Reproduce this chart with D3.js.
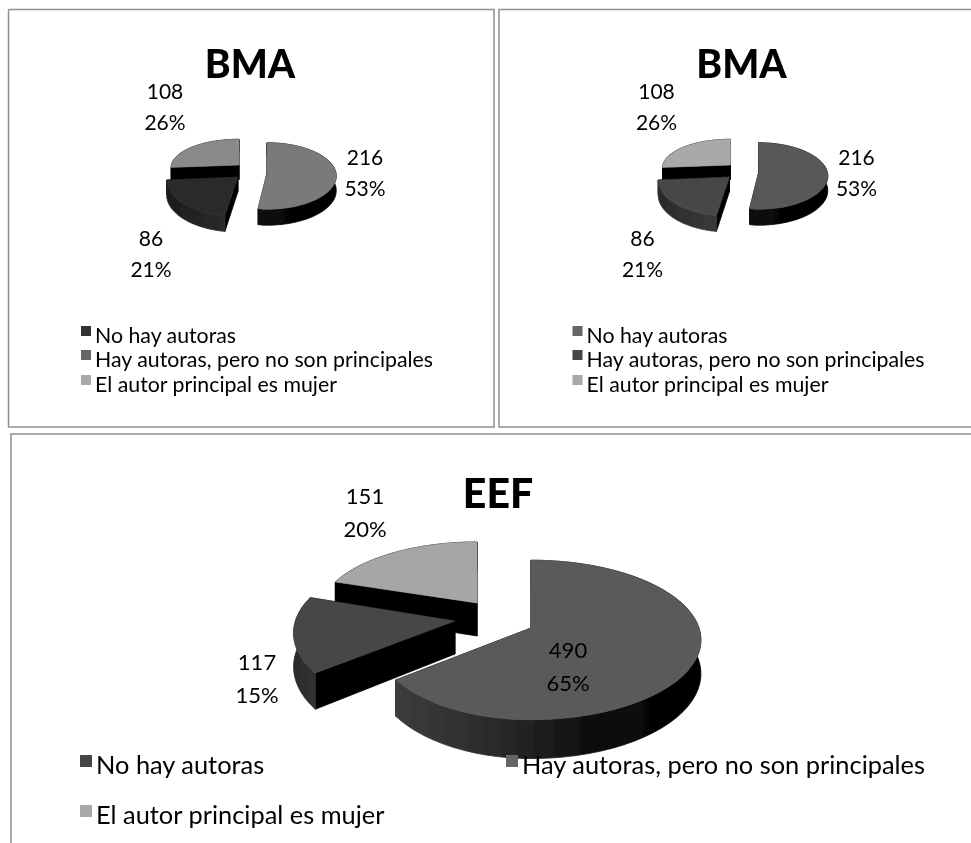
<!DOCTYPE html>
<html>
<head>
<meta charset="utf-8">
<script src="https://cdn.jsdelivr.net/npm/d3@7"></script>
<style>
  body { margin: 0; background: #fff; }
  text { font-family: Lato, "Open Sans", sans-serif; fill: #000; }
</style>
</head>
<body>
<svg id="chart" width="971" height="843"></svg>
<script>
'use strict';

const categories = [
  'No hay autoras',
  'Hay autoras, pero no son principales',
  'El autor principal es mujer',
];

// pie order is the order drawn clockwise from 12 o'clock
const bmaValues = [216, 86, 108];
const eefValues = [490, 117, 151];

const bmaTitle = 'BMA';
const eefTitle = 'EEF';

// greys per chart: pie slices in value order, legend in category order
const bmaLeftFill = ['#7a7a7a', '#2c2c2c', '#8a8a8a'];
const bmaLeftLegend = ['#333333', '#666666', '#a8a8a8'];
const bmaRightFill = ['#585858', '#474747', '#a9a9a9'];
const bmaRightLegend = ['#666666', '#444444', '#a8a8a8'];
const eefFill = ['#5a5a5a', '#474747', '#a6a6a6'];
const eefLegend = ['#444444', '#666666', '#a8a8a8'];

const svg = d3.select('#chart');
const defs = svg.append('defs');
const format = d3.format('.0%');
const pie = d3.pie().sort(null);
const line = d3.line();
let gradientId = 0;

// the source is a soft scan, a very light blur brings the edges closer
defs
  .append('filter')
  .attr('id', 'soft')
  .append('feGaussianBlur')
  .attr('stdDeviation', 0.45);

const root = svg.append('g').attr('filter', 'url(#soft)');

function wallGradient(stops) {
  const id = 'wall' + gradientId++;
  const grad = defs.append('linearGradient').attr('id', id);
  stops.forEach(function(c, i) {
    grad
      .append('stop')
      .attr('offset', i / (stops.length - 1))
      .attr('stop-color', c);
  });
  return 'url(#' + id + ')';
}

function drawPie(g, values, o) {
  const total = d3.sum(values);
  const arcs = pie(values);

  // tilted disc with some perspective, back edge is smaller than front edge
  function project(i, angle, k) {
    const v = Math.cos(angle) * k;
    const u = Math.sin(angle) * k;
    const s = 1 / (1 + o.persp * v);
    return [
      o.apex[i][0] + o.rx * u * s * (u < 0 ? o.leftScale[i] : 1),
      o.apex[i][1] - o.ry * o.ryScale[i] * v * s,
    ];
  }

  function shift(p, angle, k) {
    const s = 1 / (1 + o.persp * Math.cos(angle) * k);
    return [p[0], p[1] + o.depth * s];
  }

  // back to front, the largest slice sits in front
  d3.range(arcs.length)
    .reverse()
    .forEach(function(i) {
      const a = arcs[i];
      const apex = o.apex[i];
      const angles = d3.range(0, 61).map(function(n) {
        return a.startAngle + ((a.endAngle - a.startAngle) * n) / 60;
      });
      const rim = angles.map((t) => project(i, t, 1));
      const rimLow = angles.map((t, n) => shift(rim[n], t, 1));
      const slice = g.append('g').attr('class', 'slice');

      [a.startAngle, a.endAngle].forEach(function(t) {
        const p = project(i, t, 1);
        slice
          .append('path')
          .attr(
            'd',
            line([apex, p, shift(p, t, 1), shift(apex, t, 0)]) + 'Z'
          )
          .attr('fill', '#000')
          .attr('stroke', '#000')
          .attr('stroke-width', 0.8);
      });

      const wallFill = wallGradient(o.wall[i]);
      slice
        .append('path')
        .attr('d', line(rim.concat(rimLow.slice().reverse())) + 'Z')
        .attr('fill', wallFill)
        .attr('stroke', wallFill)
        .attr('stroke-width', 0.8);

      // own stroke closes the seam against the wall
      slice
        .append('path')
        .attr('d', line([apex].concat(rim)) + 'Z')
        .attr('fill', o.fill[i])
        .attr('stroke', o.fill[i])
        .attr('stroke-width', 0.6);
    });

  // value and share labels
  values.forEach(function(d, i) {
    const l = o.labels[i];
    g.append('text')
      .attr('x', l[0])
      .attr('y', l[1])
      .attr('text-anchor', 'middle')
      .style('font-size', o.labelSize + 'px')
      .text(d);
    g.append('text')
      .attr('x', l[0])
      .attr('y', l[1] + o.labelGap)
      .attr('text-anchor', 'middle')
      .style('font-size', o.labelSize + 'px')
      .text(format(d / total));
  });

  g.append('text')
    .attr('x', o.title[0])
    .attr('y', o.title[1])
    .attr('text-anchor', 'middle')
    .style('font-size', o.titleSize + 'px')
    .style('font-weight', 900)
    .text(o.titleText);

  // legend
  categories.forEach(function(c, i) {
    const e = o.legend[i];
    g.append('rect')
      .attr('x', e[0])
      .attr('y', e[1] - o.swatchUp)
      .attr('width', o.swatch)
      .attr('height', o.swatch)
      .attr('fill', o.legendFill[i]);
    g.append('text')
      .attr('x', e[0] + o.swatch + o.swatchGap)
      .attr('y', e[1])
      .style('font-size', o.legendSize + 'px')
      .text(c);
  });
}

// frames, the right and lower panels run off the picture
function frame(points) {
  root
    .append('path')
    .attr('d', line(points))
    .attr('fill', 'none')
    .attr('stroke', '#8e8e8e')
    .attr('stroke-width', 1.5);
}
frame([[8.5, 9.5], [494, 9.5], [494, 427], [8.5, 427], [8.5, 9.5]]);
frame([[971, 9.5], [499, 9.5], [499, 427], [971, 427]]);
frame([[971, 434], [11, 434], [11, 843]]);

const bmaLayout = {
  persp: 0.09,
  rx: 69,
  ry: 33,
  depth: 14.5,
  apex: [[267, 173], [238, 177], [239, 165]],
  leftScale: [0.7, 1.03, 0.98],
  ryScale: [1, 1.08, 0.85],
  labels: [[365, 165], [151, 246], [165, 99]],
  labelGap: 31,
  labelSize: 21,
  title: [250, 78],
  titleSize: 39,
  titleText: bmaTitle,
  legend: [[81, 343], [81, 367], [81, 392]],
  swatch: 10,
  swatchUp: 17,
  swatchGap: 4,
  legendSize: 21.3,
};

drawPie(
  root.append('g'),
  bmaValues,
  Object.assign({}, bmaLayout, {
    fill: bmaLeftFill,
    legendFill: bmaLeftLegend,
    wall: [['#0a0a0a', '#000000'], ['#1c1c1c', '#2a2a2a'], ['#000000', '#000000']],
  })
);

drawPie(
  root.append('g').attr('transform', 'translate(491.5,0)'),
  bmaValues,
  Object.assign({}, bmaLayout, {
    fill: bmaRightFill,
    legendFill: bmaRightLegend,
    wall: [['#0a0a0a', '#000000'], ['#2a2a2a', '#3a3a3a'], ['#000000', '#000000']],
  })
);

drawPie(root.append('g'), eefValues, {
  persp: 0.15,
  rx: 168,
  ry: 78,
  depth: 33,
  apex: [[531, 628], [455, 621], [477, 603]],
  leftScale: [0.92, 0.95, 0.93],
  ryScale: [1, 1, 0.9],
  labels: [[568, 658], [257, 670], [365, 504]],
  labelGap: 33,
  labelSize: 22,
  title: [498, 508],
  titleSize: 41,
  titleText: eefTitle,
  fill: eefFill,
  legendFill: eefLegend,
  wall: [['#3c3c3c', '#2a2a2a', '#0c0c0c', '#000000'], ['#2a2a2a', '#333333'], ['#000000', '#000000']],
  legend: [[80, 774], [506, 774], [80, 824]],
  swatch: 12,
  swatchUp: 19,
  swatchGap: 4,
  legendSize: 25.4,
});
</script>
</body>
</html>
